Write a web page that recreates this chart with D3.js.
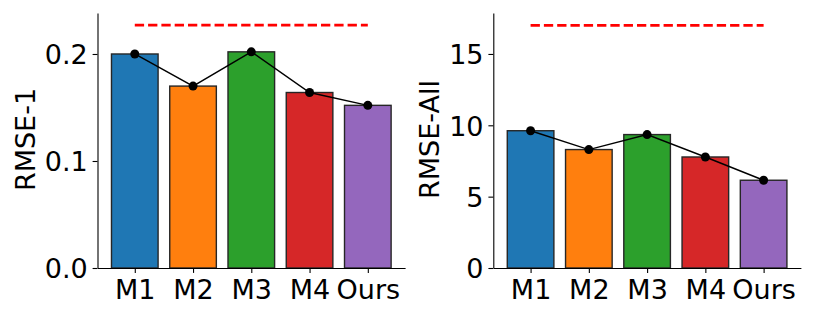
<!DOCTYPE html>
<html lang="en">
<head>
    <meta charset="UTF-8">
    <title>RMSE comparison</title>
    <script src="https://d3js.org/d3.v7.min.js"></script>
    <style>
        body { margin: 0; background: #fff; }
        text { font-family: "DejaVu Sans", sans-serif; fill: #000; }
    </style>
</head>
<body>
    <svg width="814" height="317"></svg>

    <script>
        // Data
        const methods = ["M1", "M2", "M3", "M4", "Ours"];
        const colors = ["#1f77b4", "#ff7f0e", "#2ca02c", "#d62728", "#9467bd"];

        const rmse1 = [0.200, 0.170, 0.202, 0.164, 0.152];
        const rmse1Ref = 0.227;
        const rmse1Ticks = [0.0, 0.1, 0.2];

        const rmseAll = [9.62, 8.30, 9.35, 7.78, 6.15];
        const rmseAllRef = 17.0;
        const rmseAllTicks = [0, 5, 10, 15];

        const svg = d3.select("svg");

        const plotTop = 13, plotBottom = 268;
        const fontPx = "27px";

        function panel(left, values, refValue, ticks, yMax, label, labelX, fmt) {
            const width = 307.6;
            const g = svg.append("g").attr("transform", `translate(${left},0)`);

            // matplotlib style x limits: -0.64 .. 4.64 for 5 bars of width 0.8
            const x = d3.scaleLinear().domain([-0.64, 4.64]).range([0, width]);
            const y = d3.scaleLinear().domain([0, yMax]).range([plotBottom, plotTop]);
            const bw = x(0.8) - x(0);

            // bars
            g.selectAll("rect")
             .data(values)
             .enter()
             .append("rect")
             .attr("x", (d, i) => x(i) - bw / 2)
             .attr("y", d => y(d))
             .attr("width", bw)
             .attr("height", d => y(0) - y(d))
             .attr("fill", (d, i) => colors[i])
             .attr("stroke", "#262626")
             .attr("stroke-width", 1.4);

            // red dashed reference line
            g.append("line")
             .attr("x1", x(0))
             .attr("x2", x(methods.length - 1))
             .attr("y1", y(refValue))
             .attr("y2", y(refValue))
             .attr("stroke", "#ff0000")
             .attr("stroke-width", 2.8)
             .attr("stroke-dasharray", "9.3,4");

            // connecting line + markers
            g.append("path")
             .datum(values)
             .attr("fill", "none")
             .attr("stroke", "#000")
             .attr("stroke-width", 1.4)
             .attr("d", d3.line().x((d, i) => x(i)).y(d => y(d)));

            g.selectAll("circle")
             .data(values)
             .enter()
             .append("circle")
             .attr("cx", (d, i) => x(i))
             .attr("cy", d => y(d))
             .attr("r", 4.5)
             .attr("fill", "#000");

            // axes
            const xAxis = g.append("g")
             .attr("transform", `translate(0,${plotBottom})`)
             .call(d3.axisBottom(x)
                   .tickValues(d3.range(methods.length))
                   .tickFormat(i => methods[i])
                   .tickSize(4.9)
                   .tickPadding(4.9)
                   .tickSizeOuter(0));
            xAxis.select(".domain").attr("stroke", "#000").attr("stroke-width", 1.1);
            xAxis.selectAll(".tick line").attr("stroke-width", 1.1);
            xAxis.selectAll("text")
                 .style("font-size", fontPx)
                 .attr("dy", null)
                 .attr("y", 30.5);

            const yAxis = g.append("g")
             .call(d3.axisLeft(y)
                   .tickValues(ticks)
                   .tickFormat(fmt)
                   .tickSize(4.9)
                   .tickPadding(4.9)
                   .tickSizeOuter(0));
            yAxis.select(".domain").attr("stroke", "#000").attr("stroke-width", 1.1);
            yAxis.selectAll(".tick line").attr("stroke-width", 1.1);
            yAxis.selectAll("text")
                 .style("font-size", fontPx)
                 .attr("dy", "0.36em");

            // axis label
            g.append("text")
             .attr("transform", `translate(${labelX - left},${(plotTop + plotBottom) / 2 - 1}) rotate(-90)`)
             .attr("text-anchor", "middle")
             .style("font-size", fontPx)
             .text(label);
        }

        panel(97.5, rmse1, rmse1Ref, rmse1Ticks, 0.2383, "RMSE-1", 34.5, d3.format(".1f"));
        panel(493.3, rmseAll, rmseAllRef, rmseAllTicks, 17.87, "RMSE-All", 439, d3.format("d"));
    </script>
</body>
</html>
